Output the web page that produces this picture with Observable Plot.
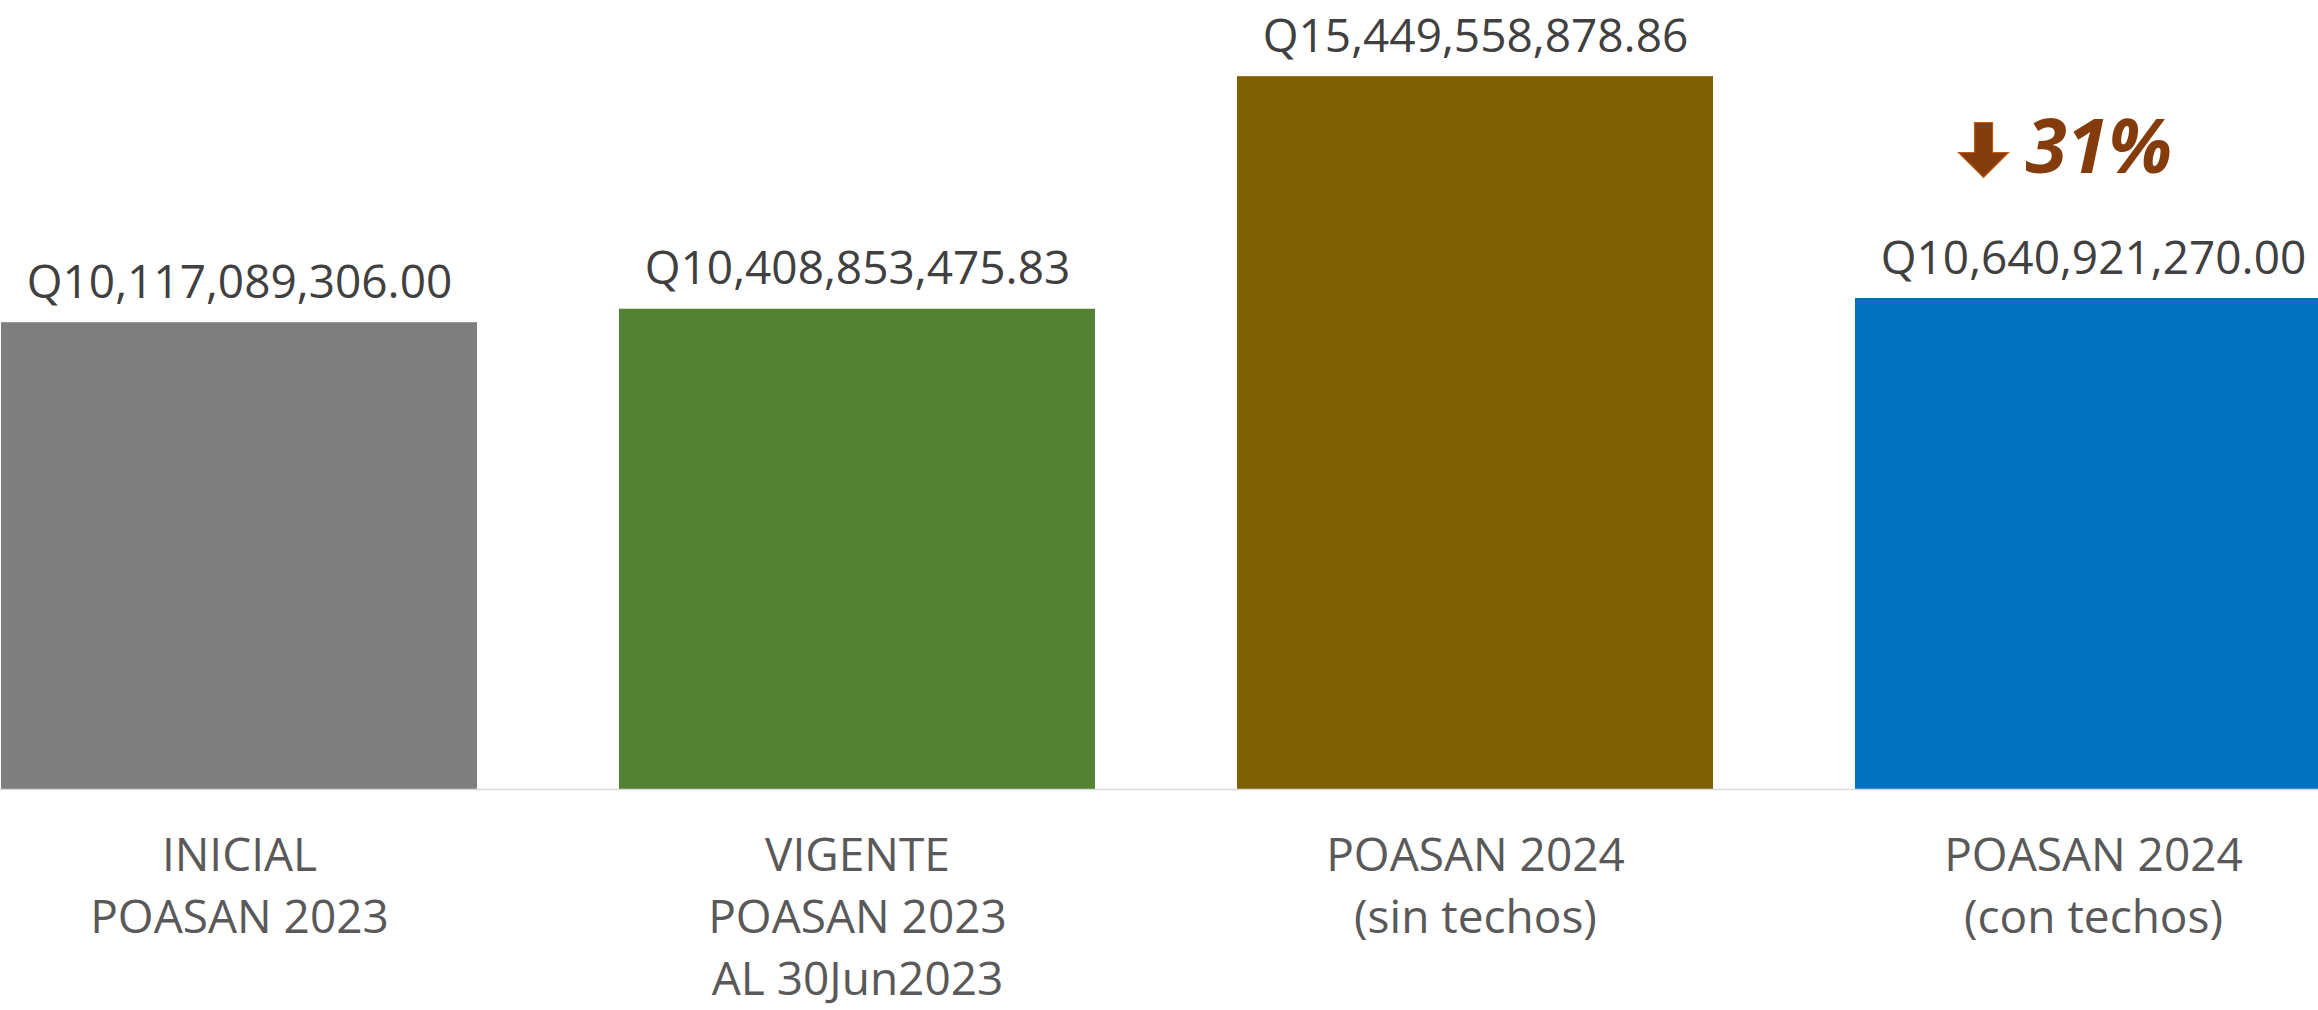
<!DOCTYPE html>
<html>
<head>
<meta charset="utf-8">
<script src="https://cdn.jsdelivr.net/npm/d3@7"></script>
<script src="https://cdn.jsdelivr.net/npm/@observablehq/plot@0.6"></script>
<style>
  html, body { margin: 0; padding: 0; background: #fff; overflow: hidden; }
  #chart svg { overflow: hidden; display: block; }
</style>
</head>
<body>
<div id="chart"></div>
<script>
const categories = [
  "INICIAL\nPOASAN 2023",
  "VIGENTE\nPOASAN 2023\nAL 30Jun2023",
  "POASAN 2024\n(sin techos)",
  "POASAN 2024\n(con techos)"
];
const values = [10117089306.00, 10408853475.83, 15449558878.86, 10640921270.00];
const colors = ["#7F7F7F", "#548235", "#7F6000", "#0070C0"];
const changeLabel = "31%";
const changeIndex = 3;

const fmt = v => "Q" + d3.format(",.2f")(v);
const data = categories.map((c, i) => ({category: c, value: values[i], color: colors[i], label: fmt(values[i])}));
const changeData = [{category: categories[changeIndex], value: values[changeIndex], label: changeLabel}];

const FONT = "'Open Sans', sans-serif";

const downArrow = {
  draw(ctx) {
    ctx.moveTo(-9, -28);
    ctx.lineTo(9, -28);
    ctx.lineTo(9, 2);
    ctx.lineTo(25, 2);
    ctx.lineTo(0, 27);
    ctx.lineTo(-25, 2);
    ctx.lineTo(-9, 2);
    ctx.closePath();
  }
};

const chart = Plot.plot({
  width: 2318,
  height: 1010,
  marginTop: 0,
  marginBottom: 221,
  marginLeft: 0,
  marginRight: 0,
  style: {fontFamily: FONT, color: "#595959", background: "#fff", overflow: "hidden"},
  x: {domain: categories, range: [-142, 2474], paddingInner: 0.2296, paddingOuter: 0.2296, label: null},
  y: {domain: [0, 17.1e9], axis: null},
  marks: [
    Plot.barY(data, {x: "category", y: "value", fill: "color"}),
    Plot.ruleY([0], {stroke: "#D9D9D9", strokeWidth: 1.5}),
    Plot.text(data, {x: "category", y: "value", text: "label", dy: -25, lineAnchor: "bottom",
      fontSize: 46, fill: "#404040", fontFamily: FONT}),
    Plot.axisX({tickSize: 0, tickPadding: 38, fontSize: 46, lineHeight: 1.345, fill: "#595959",
      fontFamily: FONT, label: null}),
    Plot.dot(changeData, {x: "category", y: "value", symbol: downArrow, fill: "#843C0C",
      stroke: "#C55A11", strokeWidth: 1.2, dx: -110, dy: -148}),
    Plot.text(changeData, {x: "category", y: "value", text: "label", dx: -68, dy: -126,
      textAnchor: "start", lineAnchor: "bottom", fontSize: 75, fontWeight: "bold",
      fontStyle: "italic", fill: "#843C0C", fontFamily: FONT})
  ]
});
document.getElementById("chart").appendChild(chart);
</script>
</body>
</html>
